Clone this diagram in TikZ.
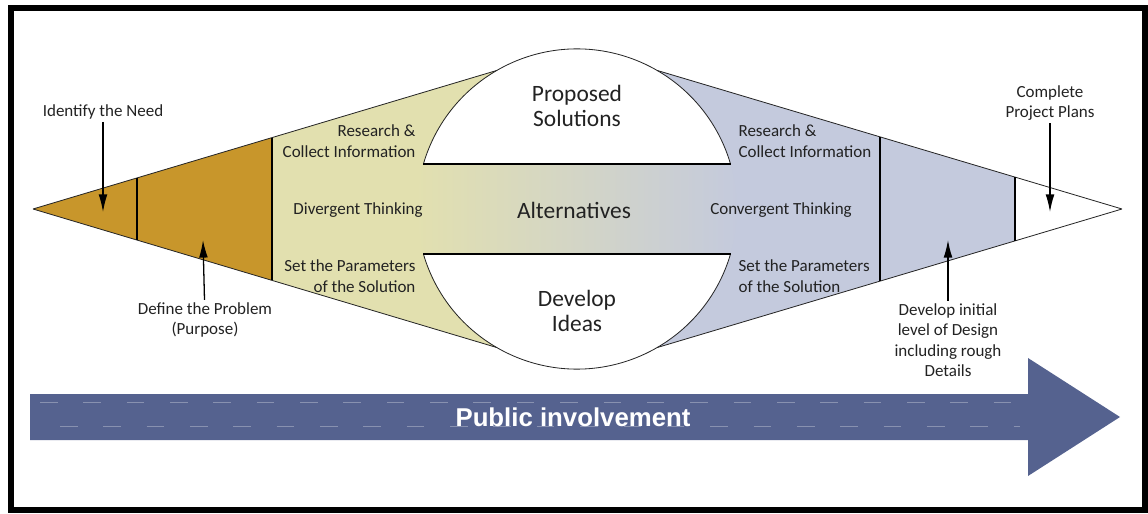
\documentclass[tikz,border=0pt]{standalone}
\usepackage{fontspec}
\setmainfont{Carlito}
\newfontfamily\arrowfont{Liberation Sans}
\usetikzlibrary{arrows.meta}

\definecolor{gold}{HTML}{C8962B}
\definecolor{paleyellow}{HTML}{E2E0AF}
\definecolor{palegreen}{HTML}{CFE3CD}
\definecolor{paleblue}{HTML}{C4CADD}
\definecolor{arrowblue}{HTML}{55628F}
\definecolor{txt}{HTML}{222222}

\begin{document}
\begin{tikzpicture}[x=0.03cm, y=-0.03cm,
    lbl/.style={font=\fontsize{14.5}{17.5}\selectfont, text=txt, inner sep=2pt},
    big/.style={font=\fontsize{20}{22}\selectfont, text=txt, align=center},
    ptr/.style={line width=1.1pt, -{Latex[length=15pt,width=7.5pt]}},
    edge/.style={line width=0.7pt, draw=black!85},
    divider/.style={line width=1.1pt}]
    \useasboundingbox (0,0) rectangle (1148,514);

    % Key points of the diamond
    \coordinate (ltip) at (33,209);
    \coordinate (rtip) at (1122,209);
    \coordinate (ul) at (497,70.4);
    \coordinate (ll) at (497,347.6);
    \coordinate (ur) at (657,70.4);
    \coordinate (lr) at (657,347.6);

    % Fill the sections
    \fill[gold] (ltip) -- (272,137.6) -- (272,280.4) -- cycle;
    \shade[left color=paleyellow, middle color=palegreen, right color=paleblue]
        (415,164) rectangle (740,254);
    \fill[paleyellow] (272,137.6) -- (ul) arc[start angle=240, end angle=120, radius=160]
        -- (272,280.4) -- cycle;
    \fill[paleblue] (1015,177.1) -- (ur) arc[start angle=-60, end angle=60, radius=160]
        -- (1015,240.9) -- cycle;

    % Outline of the diamond and the circle
    \draw[edge] (ltip) -- (ul) (ltip) -- (ll) (rtip) -- (ur) (rtip) -- (lr);
    \draw[edge] (423.4,164) arc[start angle=196.3, end angle=343.7, radius=160];
    \draw[edge] (423.4,254) arc[start angle=163.7, end angle=16.3, radius=160];
    \draw[divider] (423.4,164) -- (730.6,164) (423.4,254) -- (730.6,254);

    % Section dividers
    \draw[divider] (137,177.9) -- (137,240.1) (272,137.6) -- (272,280.4);
    \draw[divider] (880,136.9) -- (880,281.1) (1015,177.1) -- (1015,240.9);

    % Texts inside
    \node[lbl, anchor=east, align=right] (resl) at (418,141) {Research \&\\Collect Information};
    \node[lbl] (divg) at (358,210) {Divergent Thinking};
    \node[lbl, anchor=east, align=right] (parl) at (418,276) {Set the Parameters\\of the Solution};
    \node[big] (prop) at (577,106) {Proposed\\Solutions};
    \node[big] (alt) at (574,210) {Alternatives};
    \node[big] (idea) at (577,311) {Develop\\Ideas};
    \node[lbl, anchor=west, align=left] (resr) at (736,141) {Research \&\\Collect Information};
    \node[lbl] (conv) at (781,210) {Convergent Thinking};
    \node[lbl, anchor=west, align=left] (parr) at (736,276) {Set the Parameters\\of the Solution};

    % Labels with pointers
    \coordinate (need) at (103,212);
    \coordinate (prob) at (203,240);
    \coordinate (plan) at (1050,212);
    \coordinate (dsgn) at (948,240);
    \node[lbl] (needtxt) at (103,112) {Identify the Need};
    \node[lbl, align=center] (probtxt) at (205,320) {Define the Problem\\(Purpose)};
    \node[lbl, align=center] (plantxt) at (1050,103) {Complete\\Project Plans};
    \node[lbl, align=center] (dsgntxt) at (948,340) {Develop initial\\level of Design\\including rough\\Details};
    \draw[ptr] (needtxt) -- (need);
    \draw[ptr] (probtxt) -- (prob);
    \draw[ptr] (plantxt) -- (plan);
    \draw[ptr] (dsgntxt) -- (dsgn);

    % Public involvement arrow
    \fill[arrowblue] (30,394) -- (1028,394) -- (1028,358) -- (1120,417) -- (1028,476)
        -- (1028,440) -- (30,440) -- cycle;
    \draw[white, opacity=0.3, line width=0.8pt, dash pattern=on 15pt off 22pt]
        (40,402) -- (1020,402) (60,426) -- (1020,426);
    \node[font=\arrowfont\bfseries\fontsize{22}{24}\selectfont, text=white] (pub) at (573,417) {Public involvement};

    % Frame
    \draw[line width=4.3pt] (11,8) rectangle (1145,510);
\end{tikzpicture}
\end{document}
